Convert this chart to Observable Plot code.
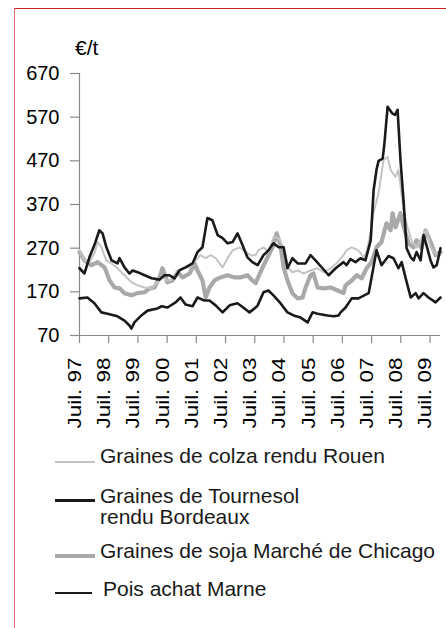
<!DOCTYPE html>
<html><head><meta charset="utf-8">
<script src="https://cdn.jsdelivr.net/npm/d3@7"></script>
<script src="https://cdn.jsdelivr.net/npm/@observablehq/plot@0.6"></script>
<style>
body{margin:0;background:#fff;font-family:Arial,"Liberation Sans",sans-serif;}
#wrap{position:relative;width:446px;height:628px;overflow:hidden;background:#fff;}
#frame{position:absolute;left:14px;top:8px;width:440px;height:630px;border-top:1px solid #d42020;border-left:1px solid #e07070;}
#chart{position:absolute;left:0;top:0;}
#unit{position:absolute;left:75px;top:36px;font-size:21px;line-height:24px;color:#000;}
.leg{position:absolute;font-size:21px;line-height:21px;color:#1a1a1a;white-space:nowrap;}
.sw{position:absolute;}
</style></head>
<body><div id="wrap"><div id="frame"></div><div id="chart"></div><div id="unit">€/t</div><div id="legend"></div></div>
<script>
// ---- data (decimal year, €/t) ----
const seriesNames = ["Graines de colza rendu Rouen", "Graines de Tournesol rendu Bordeaux", "Graines de soja Marché de Chicago", "Pois achat Marne"];
const yTicks = [70, 170, 270, 370, 470, 570, 670];
const xTickPos = [1997.5, 1998.5, 1999.5, 2000.5, 2001.5, 2002.5, 2003.5, 2004.5, 2005.5, 2006.5, 2007.5, 2008.5, 2009.5];
const xTickLabels = ["Juil. 97", "Juil. 98", "Juil. 99", "Juil. 00", "Juil. 01", "Juil. 02", "Juil. 03", "Juil. 04", "Juil. 05", "Juil. 06", "Juil. 07", "Juil. 08", "Juil. 09"];

const colza = [[1997.50,265],[1997.67,242],[1997.84,238],[1998.01,258],[1998.12,284],[1998.25,272],[1998.42,242],[1998.60,235],[1998.80,224],[1999.04,208],[1999.28,192],[1999.49,185],[1999.73,180],[1999.97,178],[2000.17,192],[2000.34,203],[2000.51,196],[2000.62,196],[2000.79,212],[2001.03,224],[2001.27,226],[2001.47,242],[2001.64,254],[2001.82,247],[2001.99,254],[2002.16,247],[2002.40,226],[2002.57,247],[2002.74,265],[2002.98,272],[2003.18,261],[2003.36,254],[2003.53,254],[2003.62,265],[2003.80,272],[2003.97,261],[2004.14,295],[2004.32,293],[2004.49,270],[2004.66,224],[2004.79,215],[2004.97,219],[2005.17,212],[2005.41,219],[2005.65,224],[2005.86,215],[2006.10,224],[2006.34,238],[2006.54,254],[2006.64,265],[2006.82,272],[2007.05,265],[2007.23,249],[2007.33,261],[2007.47,307],[2007.57,353],[2007.74,396],[2007.91,472],[2008.05,479],[2008.15,449],[2008.32,433],[2008.42,449],[2008.60,357],[2008.73,318],[2008.87,288],[2009.04,272],[2009.21,293],[2009.38,311],[2009.52,272],[2009.69,258],[2009.86,254]];

const tournesol = [[1997.50,224],[1997.67,212],[1997.84,249],[1998.01,277],[1998.18,311],[1998.29,304],[1998.42,272],[1998.60,242],[1998.80,235],[1998.87,247],[1999.04,226],[1999.21,212],[1999.32,219],[1999.49,215],[1999.73,208],[1999.97,201],[2000.24,198],[2000.41,208],[2000.58,208],[2000.75,201],[2000.92,219],[2001.13,226],[2001.37,235],[2001.54,261],[2001.71,272],[2001.88,339],[2002.05,334],[2002.23,300],[2002.40,293],[2002.57,281],[2002.74,284],[2002.91,304],[2003.08,277],[2003.25,249],[2003.42,238],[2003.60,231],[2003.80,254],[2003.97,265],[2004.14,281],[2004.32,272],[2004.49,272],[2004.62,224],[2004.79,247],[2004.97,235],[2005.24,235],[2005.41,254],[2005.58,242],[2005.82,224],[2006.03,208],[2006.27,224],[2006.54,238],[2006.64,231],[2006.78,245],[2006.95,238],[2007.12,247],[2007.29,242],[2007.47,288],[2007.57,403],[2007.67,450],[2007.74,470],[2007.88,475],[2007.94,510],[2008.05,594],[2008.14,585],[2008.22,578],[2008.30,575],[2008.39,587],[2008.49,472],[2008.60,373],[2008.66,311],[2008.70,270],[2008.84,249],[2008.94,242],[2009.04,261],[2009.18,242],[2009.28,300],[2009.38,277],[2009.52,242],[2009.62,226],[2009.73,231],[2009.86,270]];

const soja = [[1997.50,261],[1997.67,242],[1997.91,231],[1998.12,238],[1998.36,226],[1998.53,196],[1998.70,180],[1998.87,178],[1999.04,167],[1999.28,162],[1999.49,167],[1999.73,169],[1999.90,178],[2000.07,180],[2000.24,203],[2000.34,224],[2000.51,192],[2000.68,196],[2000.86,215],[2001.03,203],[2001.27,212],[2001.44,235],[2001.54,219],[2001.71,196],[2001.82,157],[2001.95,180],[2002.12,196],[2002.33,203],[2002.57,208],[2002.81,203],[2003.01,203],[2003.25,208],[2003.42,196],[2003.53,190],[2003.60,201],[2003.77,226],[2003.94,249],[2004.11,272],[2004.25,304],[2004.38,277],[2004.49,226],[2004.62,196],[2004.79,167],[2004.97,155],[2005.14,157],[2005.24,180],[2005.41,208],[2005.51,212],[2005.65,180],[2005.86,178],[2006.10,180],[2006.34,173],[2006.54,167],[2006.61,185],[2006.82,196],[2006.99,208],[2007.16,201],[2007.33,224],[2007.50,238],[2007.67,272],[2007.84,284],[2008.01,327],[2008.15,311],[2008.22,350],[2008.32,318],[2008.49,350],[2008.60,318],[2008.77,281],[2008.94,272],[2009.04,288],[2009.21,270],[2009.35,311],[2009.52,284],[2009.69,254],[2009.86,261]];

const pois = [[1997.50,155],[1997.77,157],[1998.01,144],[1998.25,123],[1998.46,120],[1998.80,114],[1999.04,104],[1999.21,93],[1999.28,86],[1999.38,100],[1999.62,116],[1999.83,127],[2000.17,132],[2000.31,137],[2000.51,134],[2000.58,137],[2000.79,146],[2000.96,157],[2001.13,141],[2001.37,137],[2001.54,157],[2001.78,150],[2001.95,150],[2002.16,139],[2002.40,123],[2002.64,139],[2002.91,144],[2003.15,132],[2003.32,123],[2003.53,134],[2003.60,139],[2003.80,169],[2003.97,173],[2004.14,162],[2004.38,144],[2004.62,123],[2004.83,116],[2005.07,111],[2005.31,100],[2005.48,123],[2005.65,120],[2005.99,116],[2006.20,114],[2006.37,116],[2006.44,123],[2006.61,134],[2006.82,155],[2007.05,155],[2007.40,167],[2007.50,203],[2007.67,265],[2007.84,231],[2008.08,252],[2008.25,247],[2008.42,224],[2008.53,238],[2008.66,203],[2008.84,157],[2009.01,167],[2009.11,155],[2009.28,167],[2009.45,157],[2009.69,146],[2009.86,157]];

// ---- styles ----
const FONT = "Arial, 'Liberation Sans', sans-serif";
const colors = ["#c4c4c4", "#1a1a1a", "#a9a9a9", "#1a1a1a"];
const widths = [2, 2.6, 4.2, 2.6];
const AXIS = "#8a8a8a";
const X0 = xTickPos[0], X1 = 2009.86;

const acc = {x: d => d[0], y: d => d[1], strokeLinejoin: "round", strokeLinecap: "round"};

const chart = Plot.plot({
  width: 446, height: 440,
  marginTop: 73, marginBottom: 105, marginLeft: 79, marginRight: 6,
  x: {type: "linear", domain: [X0, X1], axis: null},
  y: {type: "linear", domain: [yTicks[0], yTicks[yTicks.length - 1]], axis: null},
  style: {fontFamily: FONT, background: "transparent", overflow: "visible"},
  marks: [
    Plot.axisY(yTicks, {anchor: "left", tickSize: 9, tickPadding: 11, fontSize: 20, color: "#000", stroke: AXIS, strokeWidth: 1.2, label: null, tickFormat: d => String(d)}),
    Plot.axisX(xTickPos, {anchor: "bottom", tickSize: 8, tickFormat: () => "", stroke: AXIS, strokeWidth: 1.2, label: null}),
    Plot.ruleX([X0], {y1: yTicks[0], y2: yTicks[yTicks.length - 1], stroke: AXIS, strokeWidth: 1.2}),
    Plot.ruleY([yTicks[0]], {x1: X0, x2: X1, stroke: AXIS, strokeWidth: 1.2}),
    Plot.text(xTickPos, {x: d => d, frameAnchor: "bottom", text: (d, i) => xTickLabels[i], rotate: -90, textAnchor: "end", dx: 1.5, dy: 22, fontSize: 17.5, fill: "#000"}),
    Plot.line(soja, {...acc, stroke: colors[2], strokeWidth: widths[2]}),
    Plot.line(colza, {...acc, stroke: colors[0], strokeWidth: widths[0]}),
    Plot.line(pois, {...acc, stroke: colors[3], strokeWidth: widths[3]}),
    Plot.line(tournesol, {...acc, stroke: colors[1], strokeWidth: widths[1]})
  ]
});
// stretch the rotated month labels along their length, as in the original
chart.querySelectorAll('g[aria-label="text"] text').forEach(t => {
  t.setAttribute("textLength", "71");
  t.setAttribute("lengthAdjust", "spacingAndGlyphs");
});
document.getElementById("chart").appendChild(chart);

// ---- legend ----
const legendLayout = [
  {lines: ["Graines de colza rendu Rouen"], top: 445, left: 100, swTop: 461, swW: 40},
  {lines: ["Graines de Tournesol", "rendu Bordeaux"], top: 485, left: 100, swTop: 499, swW: 40},
  {lines: ["Graines de soja Marché de Chicago"], top: 540, left: 100, swTop: 554, swW: 40},
  {lines: ["Pois achat Marne"], top: 578, left: 103, swTop: 591.5, swW: 37}
];
const legend = document.getElementById("legend");
legendLayout.forEach((L, i) => {
  const sw = document.createElement("div");
  sw.className = "sw";
  sw.style.left = "55px";
  sw.style.top = L.swTop + "px";
  sw.style.width = L.swW + "px";
  sw.style.height = widths[i] + "px";
  sw.style.background = colors[i];
  legend.appendChild(sw);
  const t = document.createElement("div");
  t.className = "leg";
  t.style.left = L.left + "px";
  t.style.top = L.top + "px";
  t.innerHTML = L.lines.join("<br>");
  legend.appendChild(t);
});
</script>
</body></html>
